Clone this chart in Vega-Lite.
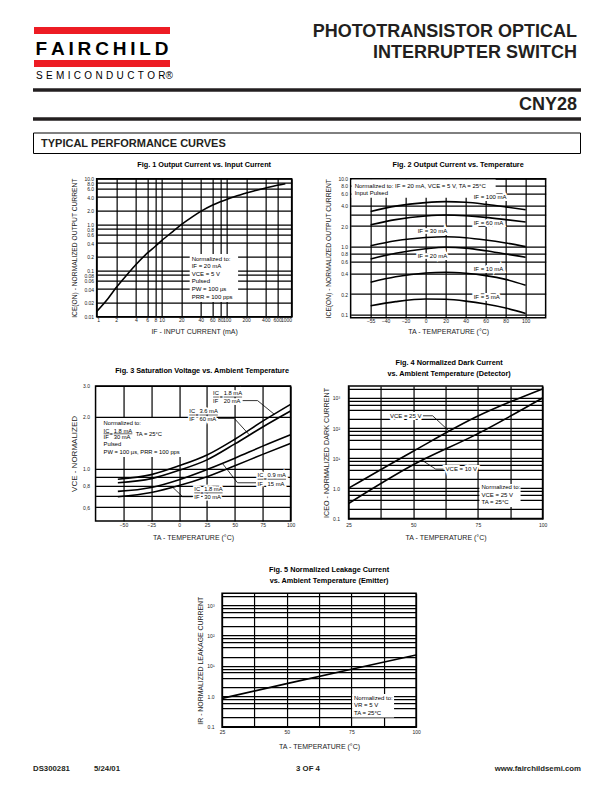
{
"$schema": "https://vega.github.io/schema/vega-lite/v6.json",
"background": "white",
"padding": {"left": 31, "top": 22, "right": 0, "bottom": 0},
"spacing": 5.7,
"center": true,
"config": {
  "font": "Liberation Sans",
  "view": {"stroke": "black", "strokeWidth": 1.5},
  "axis": {"grid": true, "gridColor": "black", "gridOpacity": 1, "gridWidth": 1.2, "ticks": false, "domain": false, "labelFont": "Liberation Sans", "labelFontSize": 5, "labelColor": "#222222", "labelOverlap": false, "titleFont": "Liberation Sans", "titleFontSize": 7, "titleFontWeight": "normal", "titleColor": "#222222"},
  "title": {"font": "Liberation Sans", "fontSize": 7.3, "fontWeight": "bold", "color": "black", "baseline": "bottom", "lineHeight": 11, "anchor": "middle", "frame": "group"},
  "text": {"font": "Liberation Sans", "color": "black"}
},
"vconcat": [
{
  "width": 577, "height": 132,
  "view": {"stroke": null},
  "data": {"values": [{}]},
  "layer": [
    {"mark": {"type": "rect", "color": "#ED1C24"}, "encoding": {"x": {"value": 1}, "x2": {"value": 137}, "y": {"value": 5}, "y2": {"value": 12}}},
    {"mark": {"type": "rect", "color": "#ED1C24"}, "encoding": {"x": {"value": 1}, "x2": {"value": 137}, "y": {"value": 38}, "y2": {"value": 45}}},
    {"mark": {"type": "text", "text": "F\u2009A\u2009I\u2009R\u2009C\u2009H\u2009I\u2009L\u2009D", "fontSize": 19, "fontWeight": "bold", "align": "center", "baseline": "middle"}, "encoding": {"x": {"value": 69}, "y": {"value": 27}}},
    {"mark": {"type": "text", "text": "S\u2004E\u2004M\u2004I\u2004C\u2004O\u2004N\u2004D\u2004U\u2004C\u2004T\u2004O\u2004R\u00ae", "fontSize": 10, "align": "left", "baseline": "middle"}, "encoding": {"x": {"value": 3}, "y": {"value": 54}}},
    {"mark": {"type": "text", "text": "PHOTOTRANSISTOR OPTICAL", "fontSize": 18, "fontWeight": "bold", "align": "right", "baseline": "middle", "color": "#231f20"}, "encoding": {"x": {"value": 544}, "y": {"value": 10}}},
    {"mark": {"type": "text", "text": "INTERRUPTER SWITCH", "fontSize": 18, "fontWeight": "bold", "align": "right", "baseline": "middle", "color": "#231f20"}, "encoding": {"x": {"value": 544}, "y": {"value": 31}}},
    {"mark": {"type": "rule", "color": "#231f20", "strokeWidth": 3.5}, "encoding": {"x": {"value": 0}, "x2": {"value": 548}, "y": {"value": 68}}},
    {"mark": {"type": "text", "text": "CNY28", "fontSize": 18, "fontWeight": "bold", "align": "right", "baseline": "middle", "color": "#231f20"}, "encoding": {"x": {"value": 544}, "y": {"value": 83}}},
    {"mark": {"type": "rule", "color": "#231f20", "strokeWidth": 3.5}, "encoding": {"x": {"value": 0}, "x2": {"value": 548}, "y": {"value": 97}}},
    {"mark": {"type": "rect", "filled": false, "color": "black", "strokeWidth": 1}, "encoding": {"x": {"value": 0.5}, "x2": {"value": 547.5}, "y": {"value": 111}, "y2": {"value": 131.5}}},
    {"mark": {"type": "text", "text": "TYPICAL PERFORMANCE CURVES", "fontSize": 11, "fontWeight": "bold", "align": "left", "baseline": "middle", "color": "#231f20"}, "encoding": {"x": {"value": 8}, "y": {"value": 121.6}}}
  ]
},
{
  "spacing": 22.26,
  "center": true,
  "vconcat": [
  {
    "hconcat": [
    {
      "width": 195, "height": 138,
      "title": {"text": "Fig. 1  Output Current vs. Input Current", "offset": 8.24, "dx": 10},
      "layer": [
        {"data": {"values": [
          {"IF_mA": 1, "ICE_norm": 0.013}, {"IF_mA": 1.5, "ICE_norm": 0.025}, {"IF_mA": 2, "ICE_norm": 0.043}, {"IF_mA": 3, "ICE_norm": 0.085},
          {"IF_mA": 4, "ICE_norm": 0.135}, {"IF_mA": 6, "ICE_norm": 0.24}, {"IF_mA": 8, "ICE_norm": 0.34}, {"IF_mA": 10, "ICE_norm": 0.45},
          {"IF_mA": 15, "ICE_norm": 0.72}, {"IF_mA": 20, "ICE_norm": 1.0}, {"IF_mA": 30, "ICE_norm": 1.5}, {"IF_mA": 40, "ICE_norm": 1.95},
          {"IF_mA": 60, "ICE_norm": 2.65}, {"IF_mA": 80, "ICE_norm": 3.15}, {"IF_mA": 100, "ICE_norm": 3.55}, {"IF_mA": 150, "ICE_norm": 4.3},
          {"IF_mA": 200, "ICE_norm": 4.9}, {"IF_mA": 300, "ICE_norm": 5.7}, {"IF_mA": 400, "ICE_norm": 6.3}, {"IF_mA": 600, "ICE_norm": 7.2},
          {"IF_mA": 800, "ICE_norm": 7.8}]},
         "mark": {"type": "line", "color": "black", "strokeWidth": 1.6, "interpolate": "monotone"},
         "encoding": {
           "x": {"field": "IF_mA", "type": "quantitative", "scale": {"type": "log", "domain": [1, 1000], "nice": false},
                 "axis": {"title": "IF - INPUT CURRENT (mA)", "values": [1, 2, 4, 6, 8, 10, 20, 40, 60, 80, 100, 200, 400, 600, 1000], "format": "d", "tickCount": 50, "labelFlush": true, "labelOverlap": false, "labelPadding": 1, "titlePadding": 4.5}},
           "y": {"field": "ICE_norm", "type": "quantitative", "scale": {"type": "log", "domain": [0.01, 10], "nice": false},
                 "axis": {"title": "ICE(ON) - NORMALIZED OUTPUT CURRENT", "values": [0.01, 0.02, 0.04, 0.06, 0.08, 0.1, 0.2, 0.4, 0.6, 0.8, 1, 2, 4, 6, 8, 10], "labelExpr": "datum.value >= 1 ? format(datum.value, '.1f') : format(datum.value, '~g')", "labelOverlap": false, "labelPadding": 3, "titlePadding": 6, "titleFontSize": 6.7}}
         }},
        {"data": {"values": [{}]}, "mark": {"type": "rect", "color": "white"},
         "encoding": {"x": {"datum": 27, "type": "quantitative", "scale": {"type": "log"}}, "x2": {"datum": 150}, "y": {"datum": 0.23, "type": "quantitative", "scale": {"type": "log"}}, "y2": {"datum": 0.021}}},
        {"data": {"values": [{}]}, "mark": {"type": "text", "align": "left", "baseline": "top", "fontSize": 6, "lineHeight": 7.6, "text": ["Normalized to:", "IF = 20 mA", "VCE = 5 V", "Pulsed", "PW = 100 µs", "PRR = 100 pps"]},
         "encoding": {"x": {"datum": 29, "type": "quantitative", "scale": {"type": "log"}}, "y": {"datum": 0.212, "type": "quantitative", "scale": {"type": "log"}}}}
      ]
    },
    {
      "width": 195, "height": 139,
      "title": {"text": "Fig. 2  Output Current vs. Temperature", "offset": 8.24, "dx": 10},
      "layer": [
        {"data": {"values": [{}]}, "mark": {"type": "rect", "color": "white"},
         "encoding": {"x": {"datum": -74, "type": "quantitative"}, "x2": {"datum": 70}, "y": {"datum": 9.75, "type": "quantitative", "scale": {"type": "log"}}, "y2": {"datum": 5.25}}},
        {"data": {"values": [
          {"TA": 48, "ICE_norm": 5.4, "label": "IF = 100 mA"}, {"TA": 48, "ICE_norm": 2.25, "label": "IF = 60 mA"},
          {"TA": -8, "ICE_norm": 1.72, "label": "IF = 30 mA"}, {"TA": -8, "ICE_norm": 0.73, "label": "IF = 20 mA"},
          {"TA": 48, "ICE_norm": 0.47, "label": "IF = 10 mA"}, {"TA": 48, "ICE_norm": 0.18, "label": "IF = 5 mA"}]},
         "mark": {"type": "text", "align": "left", "baseline": "middle", "fontSize": 6, "fill": "white", "stroke": "white", "strokeWidth": 4},
         "encoding": {"x": {"field": "TA", "type": "quantitative"}, "y": {"field": "ICE_norm", "type": "quantitative", "scale": {"type": "log"}}, "text": {"field": "label"}}},
        {"data": {"values": [
          {"IF": "100 mA", "TA": -55, "ICE_norm": 3.3}, {"IF": "100 mA", "TA": -30, "ICE_norm": 3.95}, {"IF": "100 mA", "TA": 0, "ICE_norm": 4.45}, {"IF": "100 mA", "TA": 20, "ICE_norm": 4.6}, {"IF": "100 mA", "TA": 40, "ICE_norm": 4.5}, {"IF": "100 mA", "TA": 60, "ICE_norm": 4.2}, {"IF": "100 mA", "TA": 80, "ICE_norm": 3.85}, {"IF": "100 mA", "TA": 100, "ICE_norm": 3.5},
          {"IF": "60 mA", "TA": -55, "ICE_norm": 2.1}, {"IF": "60 mA", "TA": -30, "ICE_norm": 2.5}, {"IF": "60 mA", "TA": 0, "ICE_norm": 2.82}, {"IF": "60 mA", "TA": 20, "ICE_norm": 2.92}, {"IF": "60 mA", "TA": 40, "ICE_norm": 2.85}, {"IF": "60 mA", "TA": 60, "ICE_norm": 2.7}, {"IF": "60 mA", "TA": 80, "ICE_norm": 2.5}, {"IF": "60 mA", "TA": 100, "ICE_norm": 2.3},
          {"IF": "30 mA", "TA": -55, "ICE_norm": 1.03}, {"IF": "30 mA", "TA": -30, "ICE_norm": 1.22}, {"IF": "30 mA", "TA": 0, "ICE_norm": 1.36}, {"IF": "30 mA", "TA": 20, "ICE_norm": 1.4}, {"IF": "30 mA", "TA": 40, "ICE_norm": 1.35}, {"IF": "30 mA", "TA": 60, "ICE_norm": 1.25}, {"IF": "30 mA", "TA": 80, "ICE_norm": 1.13}, {"IF": "30 mA", "TA": 100, "ICE_norm": 1.0},
          {"IF": "20 mA", "TA": -55, "ICE_norm": 0.66}, {"IF": "20 mA", "TA": -30, "ICE_norm": 0.8}, {"IF": "20 mA", "TA": 0, "ICE_norm": 0.93}, {"IF": "20 mA", "TA": 20, "ICE_norm": 0.98}, {"IF": "20 mA", "TA": 40, "ICE_norm": 0.95}, {"IF": "20 mA", "TA": 60, "ICE_norm": 0.87}, {"IF": "20 mA", "TA": 80, "ICE_norm": 0.78}, {"IF": "20 mA", "TA": 100, "ICE_norm": 0.7},
          {"IF": "10 mA", "TA": -55, "ICE_norm": 0.3}, {"IF": "10 mA", "TA": -30, "ICE_norm": 0.36}, {"IF": "10 mA", "TA": 0, "ICE_norm": 0.41}, {"IF": "10 mA", "TA": 20, "ICE_norm": 0.42}, {"IF": "10 mA", "TA": 40, "ICE_norm": 0.405}, {"IF": "10 mA", "TA": 60, "ICE_norm": 0.375}, {"IF": "10 mA", "TA": 80, "ICE_norm": 0.33}, {"IF": "10 mA", "TA": 100, "ICE_norm": 0.27},
          {"IF": "5 mA", "TA": -55, "ICE_norm": 0.135}, {"IF": "5 mA", "TA": -30, "ICE_norm": 0.155}, {"IF": "5 mA", "TA": 0, "ICE_norm": 0.17}, {"IF": "5 mA", "TA": 20, "ICE_norm": 0.168}, {"IF": "5 mA", "TA": 40, "ICE_norm": 0.158}, {"IF": "5 mA", "TA": 60, "ICE_norm": 0.143}, {"IF": "5 mA", "TA": 80, "ICE_norm": 0.125}, {"IF": "5 mA", "TA": 100, "ICE_norm": 0.104}]},
         "mark": {"type": "line", "color": "black", "strokeWidth": 1.6, "interpolate": "monotone"},
         "encoding": {
           "x": {"field": "TA", "type": "quantitative", "scale": {"domain": [-75, 120], "nice": false, "zero": false},
                 "axis": {"title": "TA - TEMPERATURE (°C)", "values": [-55, -40, -20, 0, 20, 40, 60, 80, 100], "format": "d", "tickCount": 50, "labelFlush": false, "labelOverlap": false, "labelPadding": 1, "titlePadding": 3.5}},
           "y": {"field": "ICE_norm", "type": "quantitative", "scale": {"type": "log", "domain": [0.09, 10], "nice": false},
                 "axis": {"title": "ICE(ON) - NORMALIZED OUTPUT CURRENT", "values": [0.1, 0.2, 0.4, 0.6, 0.8, 1, 2, 3, 4, 6, 8, 10], "labelExpr": "datum.value == 3 ? '' : format(datum.value, '.1f')", "labelOverlap": false, "labelPadding": 3, "titlePadding": 6.5, "titleFontSize": 6.7}},
           "detail": {"field": "IF"}
         }},
        {"data": {"values": [
          {"TA": 48, "ICE_norm": 5.4, "label": "IF = 100 mA"}, {"TA": 48, "ICE_norm": 2.25, "label": "IF = 60 mA"},
          {"TA": -8, "ICE_norm": 1.72, "label": "IF = 30 mA"}, {"TA": -8, "ICE_norm": 0.73, "label": "IF = 20 mA"},
          {"TA": 48, "ICE_norm": 0.47, "label": "IF = 10 mA"}, {"TA": 48, "ICE_norm": 0.18, "label": "IF = 5 mA"}]},
         "mark": {"type": "text", "align": "left", "baseline": "middle", "fontSize": 6},
         "encoding": {"x": {"field": "TA", "type": "quantitative"}, "y": {"field": "ICE_norm", "type": "quantitative", "scale": {"type": "log"}}, "text": {"field": "label"}}},
        {"data": {"values": [{}]}, "mark": {"type": "text", "align": "left", "baseline": "top", "fontSize": 6, "lineHeight": 7, "text": ["Normalized to: IF = 20 mA, VCE = 5 V, TA = 25°C", "Input Pulsed"]},
         "encoding": {"x": {"datum": -71, "type": "quantitative"}, "y": {"datum": 8.6, "type": "quantitative", "scale": {"type": "log"}}}}
      ]
    }
    ],
    "spacing": 59,
    "bounds": "flush"
  },
  {
    "hconcat": [
    {
      "width": 195, "height": 135,
      "title": {"text": "Fig. 3  Saturation Voltage vs. Ambient Temperature", "offset": 9.24, "dx": 9},
      "layer": [
        {"data": {"values": [
          {"IC_IF": "1.8 mA / 20 mA", "TA": -55, "VCE_norm": 0.87}, {"IC_IF": "1.8 mA / 20 mA", "TA": -25, "VCE_norm": 0.925}, {"IC_IF": "1.8 mA / 20 mA", "TA": 0, "VCE_norm": 1.04}, {"IC_IF": "1.8 mA / 20 mA", "TA": 25, "VCE_norm": 1.2}, {"IC_IF": "1.8 mA / 20 mA", "TA": 50, "VCE_norm": 1.48}, {"IC_IF": "1.8 mA / 20 mA", "TA": 75, "VCE_norm": 1.88}, {"IC_IF": "1.8 mA / 20 mA", "TA": 100, "VCE_norm": 2.35},
          {"IC_IF": "3.6 mA / 60 mA", "TA": -55, "VCE_norm": 0.83}, {"IC_IF": "3.6 mA / 60 mA", "TA": -25, "VCE_norm": 0.877}, {"IC_IF": "3.6 mA / 60 mA", "TA": 0, "VCE_norm": 0.98}, {"IC_IF": "3.6 mA / 60 mA", "TA": 25, "VCE_norm": 1.125}, {"IC_IF": "3.6 mA / 60 mA", "TA": 50, "VCE_norm": 1.39}, {"IC_IF": "3.6 mA / 60 mA", "TA": 75, "VCE_norm": 1.74}, {"IC_IF": "3.6 mA / 60 mA", "TA": 100, "VCE_norm": 2.15},
          {"IC_IF": "0.9 mA / 15 mA", "TA": -55, "VCE_norm": 0.74}, {"IC_IF": "0.9 mA / 15 mA", "TA": -25, "VCE_norm": 0.78}, {"IC_IF": "0.9 mA / 15 mA", "TA": 0, "VCE_norm": 0.865}, {"IC_IF": "0.9 mA / 15 mA", "TA": 25, "VCE_norm": 0.99}, {"IC_IF": "0.9 mA / 15 mA", "TA": 50, "VCE_norm": 1.15}, {"IC_IF": "0.9 mA / 15 mA", "TA": 75, "VCE_norm": 1.35}, {"IC_IF": "0.9 mA / 15 mA", "TA": 100, "VCE_norm": 1.57},
          {"IC_IF": "1.8 mA / 30 mA", "TA": -55, "VCE_norm": 0.69}, {"IC_IF": "1.8 mA / 30 mA", "TA": -25, "VCE_norm": 0.73}, {"IC_IF": "1.8 mA / 30 mA", "TA": 0, "VCE_norm": 0.8}, {"IC_IF": "1.8 mA / 30 mA", "TA": 25, "VCE_norm": 0.9}, {"IC_IF": "1.8 mA / 30 mA", "TA": 50, "VCE_norm": 1.04}, {"IC_IF": "1.8 mA / 30 mA", "TA": 75, "VCE_norm": 1.21}, {"IC_IF": "1.8 mA / 30 mA", "TA": 100, "VCE_norm": 1.4}]},
         "mark": {"type": "line", "color": "black", "strokeWidth": 1.6, "interpolate": "monotone"},
         "encoding": {
           "x": {"field": "TA", "type": "quantitative", "scale": {"domain": [-75, 100], "nice": false, "zero": false},
                 "axis": {"title": "TA - TEMPERATURE (°C)", "values": [-50, -25, 0, 25, 50, 75, 100], "format": "d", "tickCount": 50, "labelFlush": false, "labelOverlap": false, "labelPadding": 1.8, "titlePadding": 6.2}},
           "y": {"field": "VCE_norm", "type": "quantitative", "scale": {"type": "log", "domain": [0.5, 3], "nice": false},
                 "axis": {"title": "VCE - NORMALIZED", "values": [0.6, 0.7, 0.8, 0.9, 1, 2, 3], "labelExpr": "datum.value == 0.6 ? '0,6' : datum.value == 0.8 ? '0,8' : datum.value == 1 ? '1.0' : datum.value == 2 ? '2.0' : datum.value == 3 ? '3.0' : ''", "labelOverlap": false, "labelPadding": 6, "titlePadding": 4.4, "titleFontSize": 8}},
           "detail": {"field": "IC_IF"}
         }},
        {"data": {"values": [{}]}, "mark": {"type": "rect", "color": "white"},
         "encoding": {"x": {"datum": -69.6, "type": "quantitative"}, "x2": {"datum": 5.7}, "y": {"datum": 1.96, "type": "quantitative", "scale": {"type": "log"}}, "y2": {"datum": 1.17}}},
        {"data": {"values": [
          {"TA": 30.5, "VCE_norm": 2.73, "t": "IC"}, {"TA": 30.5, "VCE_norm": 2.46, "t": "IF"}, {"TA": 36.3, "VCE_norm": 2.59, "t": "="}, {"TA": 40, "VCE_norm": 2.73, "t": "1.8 mA"}, {"TA": 40, "VCE_norm": 2.46, "t": "20 mA"},
          {"TA": 9.1, "VCE_norm": 2.145, "t": "IC"}, {"TA": 9.1, "VCE_norm": 1.94, "t": "IF"}, {"TA": 14.5, "VCE_norm": 2.04, "t": "="}, {"TA": 18.2, "VCE_norm": 2.145, "t": "3.6 mA"}, {"TA": 18.2, "VCE_norm": 1.94, "t": "60 mA"},
          {"TA": 70.4, "VCE_norm": 0.925, "t": "IC"}, {"TA": 70.4, "VCE_norm": 0.82, "t": "IF"}, {"TA": 75.8, "VCE_norm": 0.87, "t": "="}, {"TA": 79.4, "VCE_norm": 0.925, "t": "0.9 mA"}, {"TA": 79.4, "VCE_norm": 0.82, "t": "15 mA"},
          {"TA": 13.6, "VCE_norm": 0.767, "t": "IC"}, {"TA": 13.6, "VCE_norm": 0.687, "t": "IF"}, {"TA": 19, "VCE_norm": 0.726, "t": "="}, {"TA": 22.5, "VCE_norm": 0.767, "t": "1.8 mA"}, {"TA": 22.5, "VCE_norm": 0.687, "t": "30 mA"}]},
         "mark": {"type": "text", "align": "left", "baseline": "middle", "fontSize": 5.8, "fill": "white", "stroke": "white", "strokeWidth": 3.5},
         "encoding": {"x": {"field": "TA", "type": "quantitative"}, "y": {"field": "VCE_norm", "type": "quantitative", "scale": {"type": "log"}}, "text": {"field": "t"}}},
        {"data": {"values": [
          {"id": "A", "o": 1, "TA": 57, "VCE_norm": 2.47}, {"id": "A", "o": 2, "TA": 70.4, "VCE_norm": 2.47}, {"id": "A", "o": 3, "TA": 85.4, "VCE_norm": 2.06},
          {"id": "B", "o": 1, "TA": 35, "VCE_norm": 1.95}, {"id": "B", "o": 2, "TA": 49.5, "VCE_norm": 1.95}, {"id": "B", "o": 3, "TA": 62.9, "VCE_norm": 1.57},
          {"id": "C", "o": 1, "TA": 69, "VCE_norm": 0.83}, {"id": "C", "o": 2, "TA": 52.4, "VCE_norm": 0.83}, {"id": "C", "o": 3, "TA": 39, "VCE_norm": 1.07},
          {"id": "D", "o": 1, "TA": 12, "VCE_norm": 0.69}, {"id": "D", "o": 2, "TA": 3.1, "VCE_norm": 0.69}, {"id": "D", "o": 3, "TA": -5.9, "VCE_norm": 0.783}]},
         "mark": {"type": "line", "color": "black", "strokeWidth": 0.8},
         "encoding": {"x": {"field": "TA", "type": "quantitative"}, "y": {"field": "VCE_norm", "type": "quantitative", "scale": {"type": "log"}}, "detail": {"field": "id"}, "order": {"field": "o"}}},
        {"data": {"values": [
          {"TA": 30.5, "TA2": 35.7, "VCE_norm": 2.59}, {"TA": 40, "TA2": 56.5, "VCE_norm": 2.59},
          {"TA": 9.1, "TA2": 14.3, "VCE_norm": 2.04}, {"TA": 18.2, "TA2": 34.7, "VCE_norm": 2.04},
          {"TA": 70.4, "TA2": 75.6, "VCE_norm": 0.87}, {"TA": 79.4, "TA2": 95.9, "VCE_norm": 0.87},
          {"TA": 13.6, "TA2": 18.8, "VCE_norm": 0.726}, {"TA": 22.5, "TA2": 39, "VCE_norm": 0.726},
          {"TA": -67.8, "TA2": -62.6, "VCE_norm": 1.59}, {"TA": -58.7, "TA2": -42, "VCE_norm": 1.59}]},
         "mark": {"type": "rule", "color": "black", "strokeWidth": 0.6},
         "encoding": {"x": {"field": "TA", "type": "quantitative"}, "x2": {"field": "TA2"}, "y": {"field": "VCE_norm", "type": "quantitative", "scale": {"type": "log"}}}},
        {"data": {"values": [
          {"TA": 30.5, "VCE_norm": 2.73, "t": "IC"}, {"TA": 30.5, "VCE_norm": 2.46, "t": "IF"}, {"TA": 36.3, "VCE_norm": 2.59, "t": "="}, {"TA": 40, "VCE_norm": 2.73, "t": "1.8 mA"}, {"TA": 40, "VCE_norm": 2.46, "t": "20 mA"},
          {"TA": 9.1, "VCE_norm": 2.145, "t": "IC"}, {"TA": 9.1, "VCE_norm": 1.94, "t": "IF"}, {"TA": 14.5, "VCE_norm": 2.04, "t": "="}, {"TA": 18.2, "VCE_norm": 2.145, "t": "3.6 mA"}, {"TA": 18.2, "VCE_norm": 1.94, "t": "60 mA"},
          {"TA": 70.4, "VCE_norm": 0.925, "t": "IC"}, {"TA": 70.4, "VCE_norm": 0.82, "t": "IF"}, {"TA": 75.8, "VCE_norm": 0.87, "t": "="}, {"TA": 79.4, "VCE_norm": 0.925, "t": "0.9 mA"}, {"TA": 79.4, "VCE_norm": 0.82, "t": "15 mA"},
          {"TA": 13.6, "VCE_norm": 0.767, "t": "IC"}, {"TA": 13.6, "VCE_norm": 0.687, "t": "IF"}, {"TA": 19, "VCE_norm": 0.726, "t": "="}, {"TA": 22.5, "VCE_norm": 0.767, "t": "1.8 mA"}, {"TA": 22.5, "VCE_norm": 0.687, "t": "30 mA"},
          {"TA": -67.8, "VCE_norm": 1.84, "t": "Normalized to:"},
          {"TA": -67.8, "VCE_norm": 1.65, "t": "IC"}, {"TA": -67.8, "VCE_norm": 1.53, "t": "IF"}, {"TA": -62.4, "VCE_norm": 1.59, "t": "="}, {"TA": -58.7, "VCE_norm": 1.65, "t": "1.8 mA"}, {"TA": -58.7, "VCE_norm": 1.53, "t": "30 mA"}, {"TA": -39, "VCE_norm": 1.59, "t": "TA = 25°C"},
          {"TA": -67.8, "VCE_norm": 1.39, "t": "Pulsed"},
          {"TA": -67.8, "VCE_norm": 1.25, "t": "PW = 100 µs, PRR = 100 pps"}]},
         "mark": {"type": "text", "align": "left", "baseline": "middle", "fontSize": 5.8},
         "encoding": {"x": {"field": "TA", "type": "quantitative"}, "y": {"field": "VCE_norm", "type": "quantitative", "scale": {"type": "log"}}, "text": {"field": "t"}}}
      ]
    },
    {
      "width": 194, "height": 133,
      "title": {"text": ["Fig. 4  Normalized Dark Current", "vs. Ambient Temperature (Detector)"], "offset": 8.24, "dx": 3.5},
      "layer": [
        {"data": {"values": [{}]}, "mark": {"type": "rect", "color": "white"},
         "encoding": {"x": {"datum": 75.6, "type": "quantitative"}, "x2": {"datum": 91.5}, "y": {"datum": 1.38, "type": "quantitative", "scale": {"type": "log"}}, "y2": {"datum": 0.238}}},
        {"data": {"values": [
          {"TA": 41, "ICEO_norm": 255, "t": "VCE = 25 V"}, {"TA": 62.5, "ICEO_norm": 4.3, "t": "VCE = 10 V"}]},
         "mark": {"type": "text", "align": "left", "baseline": "middle", "fontSize": 6, "fill": "white", "stroke": "white", "strokeWidth": 4},
         "encoding": {"x": {"field": "TA", "type": "quantitative"}, "y": {"field": "ICEO_norm", "type": "quantitative", "scale": {"type": "log"}}, "text": {"field": "t"}}},
        {"data": {"values": [
          {"VCE": "25 V", "TA": 25, "ICEO_norm": 1.0}, {"VCE": "25 V", "TA": 50, "ICEO_norm": 17}, {"VCE": "25 V", "TA": 75, "ICEO_norm": 250}, {"VCE": "25 V", "TA": 100, "ICEO_norm": 2000},
          {"VCE": "10 V", "TA": 25, "ICEO_norm": 0.31}, {"VCE": "10 V", "TA": 50, "ICEO_norm": 6}, {"VCE": "10 V", "TA": 75, "ICEO_norm": 65}, {"VCE": "10 V", "TA": 100, "ICEO_norm": 1000}]},
         "mark": {"type": "line", "color": "black", "strokeWidth": 1.6, "interpolate": "monotone"},
         "encoding": {
           "x": {"field": "TA", "type": "quantitative", "scale": {"domain": [25, 100], "nice": false, "zero": false},
                 "axis": {"title": "TA - TEMPERATURE (°C)", "values": [25, 37.5, 50, 62.5, 75, 87.5, 100], "labelExpr": "datum.value % 25 == 0 ? format(datum.value, 'd') : ''", "tickCount": 50, "labelFlush": false, "labelOverlap": false, "labelPadding": 3.8, "titlePadding": 6.2}},
           "y": {"field": "ICEO_norm", "type": "quantitative", "scale": {"type": "log", "domain": [0.095, 2500], "nice": false},
                 "axis": {"title": "ICEO - NORMALIZED DARK CURRENT", "values": [0.1, 0.2, 0.4, 0.6, 0.8, 1, 2, 4, 6, 8, 10, 20, 40, 60, 80, 100, 200, 400, 600, 800, 1000, 2000], "labelExpr": "datum.value == 0.1 ? '0.1' : datum.value == 1 ? '1.0' : datum.value == 10 ? '10¹' : datum.value == 100 ? '10²' : datum.value == 1000 ? '10³' : ''", "labelOverlap": false, "labelPadding": 9, "titlePadding": 2, "titleFontSize": 7.2}},
           "detail": {"field": "VCE"}
         }},
        {"data": {"values": [
          {"id": "25", "o": 1, "TA": 53.8, "ICEO_norm": 255}, {"id": "25", "o": 2, "TA": 57.5, "ICEO_norm": 255}, {"id": "25", "o": 3, "TA": 64, "ICEO_norm": 77},
          {"id": "10", "o": 1, "TA": 61.7, "ICEO_norm": 4.3}, {"id": "10", "o": 2, "TA": 58.7, "ICEO_norm": 4.3}, {"id": "10", "o": 3, "TA": 53.6, "ICEO_norm": 8.3}]},
         "mark": {"type": "line", "color": "black", "strokeWidth": 0.8},
         "encoding": {"x": {"field": "TA", "type": "quantitative"}, "y": {"field": "ICEO_norm", "type": "quantitative", "scale": {"type": "log"}}, "detail": {"field": "id"}, "order": {"field": "o"}}},
        {"data": {"values": [
          {"TA": 41, "ICEO_norm": 255, "t": "VCE = 25 V"}, {"TA": 62.5, "ICEO_norm": 4.3, "t": "VCE = 10 V"}]},
         "mark": {"type": "text", "align": "left", "baseline": "middle", "fontSize": 6},
         "encoding": {"x": {"field": "TA", "type": "quantitative"}, "y": {"field": "ICEO_norm", "type": "quantitative", "scale": {"type": "log"}}, "text": {"field": "t"}}},
        {"data": {"values": [{}]}, "mark": {"type": "text", "align": "left", "baseline": "top", "fontSize": 6, "lineHeight": 7.5, "text": ["Normalized to:", "VCE = 25 V", "TA = 25°C"]},
         "encoding": {"x": {"datum": 76.4, "type": "quantitative"}, "y": {"datum": 1.33, "type": "quantitative", "scale": {"type": "log"}}}}
      ]
    }
    ],
    "spacing": 58,
    "bounds": "flush"
  },
  {
    "width": 194, "height": 134,
    "title": {"text": ["Fig. 5  Normalized Leakage Current", "vs. Ambient Temperature (Emitter)"], "offset": 9.24, "dx": 10},
    "layer": [
      {"data": {"values": [
        {"TA": 25, "IR_norm": 0.85}, {"TA": 50, "IR_norm": 2.6}, {"TA": 75, "IR_norm": 7.8}, {"TA": 100, "IR_norm": 23}]},
       "mark": {"type": "line", "color": "black", "strokeWidth": 1.6, "interpolate": "monotone"},
       "encoding": {
         "x": {"field": "TA", "type": "quantitative", "scale": {"domain": [25, 100], "nice": false, "zero": false},
               "axis": {"title": "TA - TEMPERATURE (°C)", "values": [25, 37.5, 50, 62.5, 75, 87.5, 100], "labelExpr": "datum.value % 25 == 0 ? format(datum.value, 'd') : ''", "tickCount": 50, "labelFlush": false, "labelOverlap": false, "labelPadding": 2, "titlePadding": 8.2}},
         "y": {"field": "IR_norm", "type": "quantitative", "scale": {"type": "log", "domain": [0.095, 2500], "nice": false},
               "axis": {"title": "IR - NORMALIZED LEAKAGE CURRENT", "values": [0.1, 0.2, 0.4, 0.6, 0.8, 1, 2, 4, 6, 8, 10, 20, 40, 60, 80, 100, 200, 400, 600, 800, 1000, 2000], "labelExpr": "datum.value == 0.1 ? '0.1' : datum.value == 1 ? '1.0' : datum.value == 10 ? '10¹' : datum.value == 100 ? '10²' : datum.value == 1000 ? '10³' : ''", "labelOverlap": false, "labelPadding": 8, "titlePadding": 3, "titleFontSize": 6.9}}
       }},
      {"data": {"values": [{}]}, "mark": {"type": "rect", "color": "white"},
       "encoding": {"x": {"datum": 75.3, "type": "quantitative"}, "x2": {"datum": 91.5}, "y": {"datum": 1.19, "type": "quantitative", "scale": {"type": "log"}}, "y2": {"datum": 0.2}}},
      {"data": {"values": [{}]}, "mark": {"type": "text", "align": "left", "baseline": "top", "fontSize": 6, "lineHeight": 7.3, "text": ["Normalized to:", "VR = 5 V", "TA = 25°C"]},
       "encoding": {"x": {"datum": 76, "type": "quantitative"}, "y": {"datum": 1.1, "type": "quantitative", "scale": {"type": "log"}}}}
    ]
  }
  ]
},
{
  "width": 577, "height": 17,
  "view": {"stroke": null},
  "data": {"values": [{}]},
  "layer": [
    {"mark": {"type": "text", "text": "DS300281", "fontSize": 7.8, "fontWeight": "bold", "align": "left", "baseline": "middle", "color": "#231f20"}, "encoding": {"x": {"value": 0}, "y": {"value": 12.7}}},
    {"mark": {"type": "text", "text": "5/24/01", "fontSize": 7.8, "fontWeight": "bold", "align": "left", "baseline": "middle", "color": "#231f20"}, "encoding": {"x": {"value": 61}, "y": {"value": 12.7}}},
    {"mark": {"type": "text", "text": "3 OF 4", "fontSize": 7.8, "fontWeight": "bold", "align": "center", "baseline": "middle", "color": "#231f20"}, "encoding": {"x": {"value": 275}, "y": {"value": 12.7}}},
    {"mark": {"type": "text", "text": "www.fairchildsemi.com", "fontSize": 7.8, "fontWeight": "bold", "align": "right", "baseline": "middle", "color": "#231f20"}, "encoding": {"x": {"value": 548}, "y": {"value": 12.7}}}
  ]
}
]
}
